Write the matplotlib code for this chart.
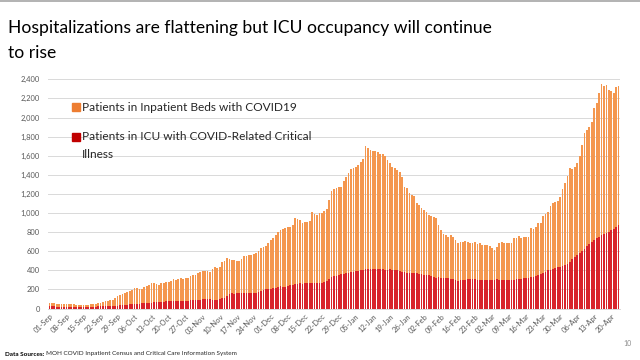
import matplotlib
matplotlib.use("Agg")
import matplotlib.pyplot as plt
import matplotlib.transforms as mtransforms
from matplotlib.patches import Rectangle
from matplotlib.lines import Line2D

# ---- data (daily, 01-Sep to 23-Apr) ----
total_hospitalized = [
    58, 56, 55, 52, 50, 48, 47,
    46, 45, 44, 42, 40, 38, 37,
    36, 38, 40, 44, 47, 52, 56,
    62, 68, 74, 80, 85, 92, 105,
    128, 140, 152, 160, 172, 186, 196,
    210, 214, 208, 204, 222, 236, 246,
    262, 270, 255, 246, 262, 270, 278,
    280, 290, 305, 298, 310, 316, 312,
    316, 322, 338, 350, 352, 368, 385,
    392, 396, 390, 385, 410, 431, 420,
    438, 490, 500, 525, 518, 512, 508,
    500, 497, 520, 550, 545, 556, 560,
    572, 585, 600, 630, 640, 655, 690,
    717, 740, 770, 800, 822, 830, 840,
    850, 857, 870, 945, 935, 927, 892,
    905, 909, 915, 1013, 990, 978, 995,
    1000, 1020, 1040, 1136, 1230, 1250, 1260,
    1270, 1275, 1330, 1380, 1420, 1458, 1468,
    1485, 1503, 1538, 1565, 1700, 1677, 1660,
    1650, 1645, 1642, 1620, 1618, 1600, 1555,
    1520, 1480, 1470, 1450, 1430, 1380, 1275,
    1260, 1210, 1190, 1180, 1100, 1083, 1050,
    1030, 1013, 980, 968, 961, 945, 874,
    822, 780, 770, 745, 770, 748, 720,
    683, 700, 700, 702, 698, 683, 690,
    695, 680, 685, 665, 668, 660, 655,
    630, 612, 640, 690, 700, 690, 683,
    683, 690, 735, 740, 760, 735, 752,
    745, 752, 840, 830, 857, 892, 898,
    968, 990, 1013, 1073, 1100, 1110, 1125,
    1170, 1250, 1310, 1390, 1468, 1460, 1480,
    1520, 1600, 1712, 1834, 1870, 1903, 1956,
    2096, 2150, 2253, 2348, 2333, 2340, 2288,
    2277, 2253, 2322, 2330,
]

icu_patients = [
    22, 22, 21, 20, 20, 19, 19,
    18, 18, 17, 17, 16, 16, 16,
    16, 17, 17, 18, 19, 20, 21,
    22, 22, 24, 25, 26, 28, 30,
    31, 33, 35, 37, 40, 44, 46,
    48, 50, 52, 55, 58, 60, 61,
    62, 64, 66, 68, 70, 72, 74,
    76, 78, 78, 78, 79, 78, 80,
    80, 82, 85, 88, 90, 92, 93,
    95, 98, 99, 96, 91, 89, 92,
    99, 105, 110, 130, 150, 159, 155,
    158, 160, 162, 159, 158, 160, 162,
    165, 160, 168, 185, 195, 201, 205,
    208, 210, 211, 222, 235, 230, 228,
    232, 245, 250, 256, 258, 262, 260,
    263, 264, 263, 262, 265, 266, 264,
    268, 275, 290, 310, 333, 340, 345,
    350, 361, 363, 368, 375, 380, 385,
    390, 395, 403, 406, 410, 410, 411,
    410, 412, 410, 409, 411, 405, 404,
    410, 402, 403, 398, 395, 380, 378,
    375, 372, 375, 370, 368, 360, 358,
    355, 352, 350, 340, 330, 322, 325,
    323, 320, 322, 318, 312, 305, 300,
    291, 295, 300, 302, 305, 305, 304,
    306, 300, 298, 300, 296, 298, 302,
    300, 298, 305, 300, 303, 300, 298,
    302, 298, 300, 305, 310, 312, 315,
    318, 322, 327, 335, 340, 350, 360,
    370, 385, 403, 403, 410, 420, 430,
    433, 445, 455, 470, 490, 515, 540,
    560, 580, 600, 620, 650, 680, 700,
    720, 735, 750, 765, 780, 790, 805,
    822, 835, 850, 873,
]

tick_labels = [
    "01-Sep", "08-Sep", "15-Sep", "22-Sep", "29-Sep", "06-Oct", "13-Oct",
    "20-Oct", "27-Oct", "03-Nov", "10-Nov", "17-Nov", "24-Nov", "01-Dec",
    "08-Dec", "15-Dec", "22-Dec", "29-Dec", "05-Jan", "12-Jan", "19-Jan",
    "26-Jan", "02-Feb", "09-Feb", "16-Feb", "23-Feb", "02-Mar", "09-Mar",
    "16-Mar", "23-Mar", "30-Mar", "06-Apr", "13-Apr", "20-Apr",
]

y_ticks = list(range(0, 2401, 200))

# ---- figure ----
W, H = 640, 360
fig = plt.figure(figsize=(6.4, 3.6), dpi=100)
fig.patch.set_facecolor("white")
renderer = fig.canvas.get_renderer()

ax = fig.add_axes([48 / W, 1 - 308.5 / H, (620 - 48) / W, (308.5 - 79.3) / H])

n = len(total_hospitalized)
x = list(range(n))
non_icu = [t - i for t, i in zip(total_hospitalized, icu_patients)]

ORANGE = "#ED7D31"
RED = "#C00000"
ax.bar(x, icu_patients, width=0.72, color="#D8232A", linewidth=0, zorder=3)
ax.bar(x, non_icu, bottom=icu_patients, width=0.72, color="#F4974F", linewidth=0, zorder=3)

ax.set_xlim(-0.6, n - 0.4)
ax.set_ylim(0, 2400)
ax.set_yticks(y_ticks)
ax.set_yticklabels([f"{v:,}" for v in y_ticks])
ax.grid(axis="y", color="#D9D9D9", linewidth=0.7, zorder=0)
ax.set_axisbelow(True)
for s in ["top", "right", "left"]:
    ax.spines[s].set_visible(False)
ax.spines["bottom"].set_color("#D9D9D9")
ax.spines["bottom"].set_linewidth(0.7)

tick_pos = list(range(0, n, 7))[: len(tick_labels)]
ax.set_xticks(tick_pos)
ax.set_xticklabels(tick_labels, rotation=45, ha="right", rotation_mode="anchor")
offset = mtransforms.ScaledTranslation(-6 / 100, 0, fig.dpi_scale_trans)
for lab in ax.get_xticklabels():
    lab.set_transform(lab.get_transform() + offset)
ax.tick_params(axis="x", length=0, labelsize=5.4, labelcolor="#595959", pad=3)
ax.tick_params(axis="y", length=0, labelsize=5.4, labelcolor="#595959", pad=6)
for lab in ax.get_xticklabels() + ax.get_yticklabels():
    lab.set_family("Lato")


def fit_text(t, target_px):
    w = t.get_window_extent(renderer=renderer).width
    t.set_fontsize(t.get_fontsize() * target_px / w)


# ---- title ----
title_font = ["Liberation Sans Narrow", "Lato"]
t1 = fig.text(8 / W, 1 - 33 / H, "Hospitalizations are flattening but ICU occupancy will continue",
              fontsize=16, family=title_font, color="#000000", va="baseline", ha="left")
fit_text(t1, 486)
fig.text(8 / W, 1 - 58 / H, "to rise",
         fontsize=t1.get_fontsize(), family=title_font, color="#000000", va="baseline", ha="left")

# ---- legend (manual) ----
sq = 8
fig.patches.append(Rectangle((72 / W, 1 - (107 + sq / 2) / H), sq / W, sq / H,
                             transform=fig.transFigure, color=ORANGE, figure=fig))
fig.patches.append(Rectangle((72 / W, 1 - (137 + sq / 2) / H), sq / W, sq / H,
                             transform=fig.transFigure, color=RED, figure=fig))
fig.text(82 / W, 1 - 107 / H, "Patients in Inpatient Beds with COVID19",
         fontsize=8.6, family="Lato", color="#262626", va="center", ha="left")
fig.text(82 / W, 1 - 137 / H, "Patients in ICU with COVID-Related Critical",
         fontsize=8.6, family="Lato", color="#262626", va="center", ha="left")
fig.text(82 / W, 1 - 154 / H, "Illness",
         fontsize=8.6, family="Lato", color="#262626", va="center", ha="left")

# ---- footer ----
f1 = fig.text(5 / W, 1 - 354 / H, "Data Sources:", fontsize=4.6, family="Lato",
              weight="bold", color="#000000", va="center", ha="left")
w1 = f1.get_window_extent(renderer=renderer).width
fig.text((5 + w1 + 2) / W, 1 - 354 / H,
         "MOH COVID Inpatient Census and Critical Care Information System",
         fontsize=4.6, family="Lato", color="#262626", va="center", ha="left")
fig.text(628 / W, 1 - 343 / H, "10", fontsize=5, family="Lato", color="#8C8C8C",
         va="center", ha="center")

# top border line
fig.add_artist(Line2D([0, 1], [1 - 1 / H, 1 - 1 / H], transform=fig.transFigure,
                      color="#A6A6A6", linewidth=1.2))

fig.savefig("out.png", dpi=100, facecolor="white")
